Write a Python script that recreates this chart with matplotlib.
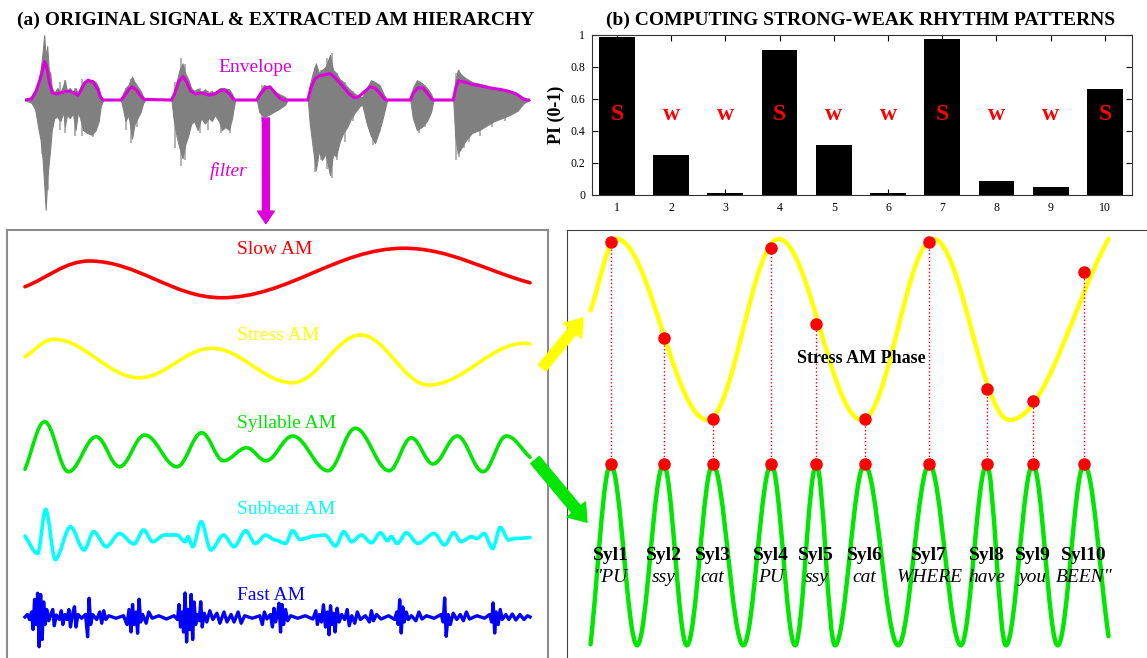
import matplotlib
matplotlib.use('Agg')
import matplotlib.pyplot as plt
from matplotlib.path import Path
from matplotlib.patches import PathPatch, ConnectionPatch

plt.rcParams['font.family'] = ['Liberation Serif', 'DejaVu Serif']

# ---------------- data (time in % of the utterance) ----------------
syl_labels = ['Syl1', 'Syl2', 'Syl3', 'Syl4', 'Syl5', 'Syl6', 'Syl7', 'Syl8', 'Syl9', 'Syl10']
syl_words = ['"PU', 'ssy', 'cat', 'PU', 'ssy', 'cat', 'WHERE', 'have', 'you', 'BEEN"']
syl_times = [3.9, 14.1, 23.6, 34.9, 43.6, 52.9, 65.4, 76.5, 85.4, 95.3]

pi_values = [0.99, 0.25, 0.01, 0.905, 0.315, 0.015, 0.975, 0.085, 0.05, 0.665]
pi_marks = ['S', 'w', 'w', 'S', 'w', 'w', 'S', 'w', 'w', 'S']

# original signal: (time, upper, lower)
wave = [(0.0, 0.0, 0.0), (1.3, 0.05, -0.05), (2.0, 0.12, -0.15), (2.6, 0.25, -0.45),
        (3.1, 0.5, -0.67), (3.5, 0.8, -1.0), (3.8, 1.08, -1.4), (4.1, 0.7, -1.83),
        (4.4, 0.9, -1.3), (4.7, 0.5, -1.06), (5.0, 0.45, -0.8), (5.3, 0.2, -0.5),
        (5.8, 0.12, -0.3), (6.4, 0.2, -0.28), (7.0, 0.12, -0.35), (7.6, 0.25, -0.2),
        (7.9, 0.33, -0.44), (8.3, 0.15, -0.25), (8.9, 0.2, -0.3), (9.5, 0.12, -0.22),
        (10.0, 0.2, -0.5), (10.5, 0.1, -0.2), (10.9, 0.2, -0.3), (11.5, 0.3, -0.5),
        (12.3, 0.33, -0.55), (13.2, 0.33, -0.58), (14.0, 0.3, -0.5), (14.6, 0.2, -0.35),
        (15.0, 0.05, -0.1), (15.5, 0.0, 0.0), (19.0, 0.0, 0.0), (19.4, 0.1, -0.15),
        (19.9, 0.2, -0.35), (20.5, 0.25, -0.25), (21.2, 0.39, -0.64), (21.7, 0.3, -0.4),
        (22.3, 0.22, -0.3), (22.9, 0.15, -0.2), (23.4, 0.05, -0.05), (23.8, 0.0, 0.0),
        (29.0, 0.0, 0.0), (29.4, 0.1, -0.3), (30.0, 0.3, -0.6), (30.6, 0.5, -0.8),
        (31.2, 0.61, -0.97), (31.7, 0.45, -0.75), (32.3, 0.35, -0.6), (32.9, 0.2, -0.4),
        (33.5, 0.15, -0.35), (34.2, 0.19, -0.5), (34.9, 0.12, -0.3), (35.6, 0.18, -0.39),
        (36.4, 0.12, -0.3), (37.0, 0.15, -0.35), (37.6, 0.1, -0.25), (38.4, 0.19, -0.35),
        (39.0, 0.2, -0.5), (39.7, 0.19, -0.45), (40.4, 0.18, -0.5), (41.0, 0.1, -0.3),
        (41.6, 0.0, 0.0), (45.9, 0.0, 0.0), (46.4, 0.12, -0.2), (47.3, 0.25, -0.28),
        (48.2, 0.22, -0.25), (49.2, 0.15, -0.2), (50.3, 0.1, -0.15), (51.5, 0.05, -0.08),
        (52.0, 0.0, 0.0), (56.0, 0.0, 0.0), (56.4, 0.25, -0.4), (57.0, 0.45, -0.8),
        (57.6, 0.61, -1.17), (58.2, 0.45, -0.85), (58.8, 0.5, -1.0), (59.5, 0.55, -0.9),
        (60.4, 0.75, -1.25), (61.0, 0.5, -0.9), (61.6, 0.45, -0.94), (62.3, 0.35, -0.7),
        (63.0, 0.3, -0.55), (63.8, 0.22, -0.45), (64.6, 0.15, -0.3), (65.4, 0.1, -0.2),
        (66.3, 0.05, -0.1), (66.8, 0.05, -0.08), (67.7, 0.2, -0.4), (68.5, 0.33, -0.6),
        (69.3, 0.3, -0.72), (70.2, 0.25, -0.5), (71.0, 0.1, -0.25), (71.7, 0.0, 0.0),
        (76.3, 0.0, 0.0), (76.8, 0.2, -0.3), (77.6, 0.33, -0.5), (78.6, 0.28, -0.45),
        (79.6, 0.2, -0.35), (80.4, 0.1, -0.2), (80.9, 0.0, 0.0), (84.8, 0.0, 0.0),
        (85.2, 0.3, -0.6), (85.7, 0.5, -0.89), (86.4, 0.42, -0.8), (87.3, 0.36, -0.67),
        (88.5, 0.3, -0.55), (90.0, 0.27, -0.5), (91.5, 0.24, -0.42), (93.0, 0.2, -0.35),
        (94.5, 0.18, -0.3), (96.0, 0.15, -0.25), (97.5, 0.1, -0.18), (98.8, 0.03, -0.05),
        (100.0, 0.0, 0.0)]

# isolated spikes sticking out of the signal: (time, top, bottom)
wave_spikes = [(2.9, 0.3, -0.55), (3.3, 0.6, -0.9), (4.6, 0.6, -1.5), (5.6, 0.15, -0.45),
               (6.9, 0.3, -0.5), (8.0, 0.33, -0.55), (9.9, 0.2, -0.6), (11.2, 0.35, -0.6),
               (13.5, 0.33, -0.62), (20.0, 0.2, -0.5), (21.0, 0.35, -0.72), (22.2, 0.2, -0.45),
               (29.8, 0.3, -0.8), (30.8, 0.7, -1.1), (31.6, 0.6, -1.0), (34.6, 0.2, -0.55),
               (36.2, 0.15, -0.5), (38.8, 0.2, -0.55), (40.6, 0.15, -0.55), (47.0, 0.25, -0.35),
               (57.4, 0.55, -1.2), (58.6, 0.5, -1.0), (59.8, 0.7, -1.15), (60.7, 0.78, -1.3),
               (61.8, 0.45, -1.0), (63.3, 0.3, -0.7), (65.0, 0.15, -0.35), (68.9, 0.3, -0.75),
               (69.8, 0.25, -0.6), (78.0, 0.3, -0.55), (79.2, 0.25, -0.45), (85.4, 0.45, -1.0),
               (86.0, 0.5, -0.95), (87.0, 0.35, -0.8), (88.0, 0.3, -0.7), (90.0, 0.27, -0.6),
               (92.5, 0.2, -0.45), (95.0, 0.17, -0.35)]

envelope = [(0, 0), (1.3, 0.02), (2.2, 0.15), (3.0, 0.35), (3.6, 0.55), (3.9, 0.64), (4.3, 0.55),
            (4.8, 0.3), (5.4, 0.12), (6.2, 0.1), (7.5, 0.13), (8.7, 0.15), (9.7, 0.12), (10.5, 0.08),
            (11.0, 0.15), (11.8, 0.28), (12.5, 0.33), (13.5, 0.3), (14.4, 0.18), (15.0, 0.04),
            (15.5, 0), (19.0, 0), (19.8, 0.08), (20.6, 0.18), (21.2, 0.22), (22.0, 0.17), (22.8, 0.08),
            (23.6, 0.01), (29.0, 0), (29.6, 0.1), (30.4, 0.3), (31.3, 0.39), (32.0, 0.3), (32.8, 0.15),
            (33.8, 0.1), (35.0, 0.12), (36.5, 0.08), (37.5, 0.1), (38.5, 0.15), (39.5, 0.17),
            (40.5, 0.1), (41.2, 0.02), (41.6, 0), (45.9, 0), (46.6, 0.1), (47.6, 0.2), (48.5, 0.22),
            (49.5, 0.12), (50.5, 0.03), (51.2, 0), (56.0, 0), (56.6, 0.2), (57.4, 0.35), (58.2, 0.4),
            (59.3, 0.42), (60.4, 0.44), (61.3, 0.38), (62.2, 0.3), (63.2, 0.2), (64.2, 0.1),
            (65.2, 0.04), (66.0, 0.05), (67.0, 0.12), (68.3, 0.22), (69.3, 0.2), (70.4, 0.1),
            (71.3, 0.01), (71.7, 0), (76.3, 0), (76.9, 0.12), (77.8, 0.2), (78.8, 0.2), (79.8, 0.1),
            (80.6, 0.01), (81.0, 0), (84.8, 0), (85.3, 0.2), (85.8, 0.32), (87.0, 0.3), (88.5, 0.26),
            (90.0, 0.24), (91.5, 0.21), (93.0, 0.19), (94.5, 0.17), (96.0, 0.14), (97.3, 0.1),
            (98.5, 0.03), (99.3, 0), (100, 0)]

# AM hierarchy, turning points of each band
slow_t = [0, 12.7, 38.9, 75.0, 100]
slow_v = [-0.55, 0.48, -0.99, 0.99, -0.39]

stress_t = [0, 5.7, 22.6, 37.0, 53.0, 66.5, 79.9, 99.0, 100]
stress_v = [0.13, 0.83, -0.71, 0.47, -0.91, 1.0, -1.0, 0.67, 0.64]

syll_t = [0, 3.9, 8.6, 14.1, 18.7, 23.7, 30.1, 35.0, 39.3, 43.9, 47.7, 53.0, 60.0, 65.4,
          72.1, 76.5, 80.8, 85.6, 90.7, 95.3, 100]
syll_v = [-0.9, 1.0, -1.0, 0.4, -0.8, 0.47, -0.8, 0.56, -0.56, -0.04, -0.56, 0.43, -0.96, 0.74,
          -0.96, 0.36, -0.69, 0.43, -1.0, 0.43, -0.42]

sub_t = [0, 2.5, 4.1, 6.0, 9.0, 11.7, 13.6, 16.1, 18.7, 21.6, 23.5, 25.3, 27.6, 30.1, 31.7,
         32.3, 33.2, 34.9, 36.8, 39.3, 41.4, 43.7, 45.6, 47.7, 49.5, 51.6, 53.0, 54.5, 57.3,
         59.4, 61.5, 63.1, 64.7, 66.6, 68.6, 70.4, 71.8, 72.5, 73.7, 75.5, 77.8, 81.0, 83.1,
         84.9, 86.3, 88.4, 89.5, 90.9, 92.6, 94.1, 95.8, 96.9, 100]
sub_v = [0.03, -0.67, 1.09, -0.91, 0.4, -0.53, 0.2, -0.4, 0.13, -0.29, 0.27, -0.2, 0.07, 0.07,
         -0.2, 0.0, -0.4, 0.6, -0.53, 0.07, -0.4, 0.24, -0.27, 0.07, -0.13, -0.27, 0.24, -0.11,
         0.03, 0.07, -0.37, 0.2, -0.2, 0.07, -0.24, 0.16, -0.16, 0.0, -0.27, 0.16, -0.27, 0.13,
         -0.33, 0.17, -0.2, 0.0, -0.07, 0.13, -0.47, 0.37, -0.13, -0.07, -0.03]

fast_am = [(0.0, 0.0), (0.5, 0.1), (0.9, -0.1), (1.3, 0.2), (1.6, -0.5), (1.9, 0.7), (2.2, -0.3),
           (2.5, 0.95), (2.8, -1.19), (3.1, 0.9), (3.4, -0.9), (3.7, 0.6), (4.0, -0.3), (4.3, 0.3),
           (4.7, -0.15), (5.1, 0.1), (5.5, 0.3), (5.8, -0.35), (6.2, 0.08), (6.8, -0.1), (7.2, 0.25),
           (7.5, -0.3), (7.9, 0.1), (8.3, -0.1), (8.7, 0.3), (9.0, -0.4), (9.4, 0.1), (9.8, 0.41),
           (10.1, -0.4), (10.5, 0.1), (11.2, -0.05), (12.0, 0.1), (12.4, -0.79), (12.7, 0.75),
           (13.0, -0.3), (13.4, 0.1), (14.2, -0.1), (14.8, 0.2), (15.2, -0.25), (15.6, 0.25),
           (16.0, -0.1), (16.6, 0.05), (18.0, -0.05), (19.5, 0.05), (20.2, -0.3), (20.6, 0.3),
           (21.0, -0.6), (21.3, 0.5), (21.6, -0.3), (22.0, 0.2), (22.3, -0.65), (22.6, 0.71),
           (22.9, -0.2), (23.3, 0.1), (24.0, -0.25), (24.5, 0.2), (25.2, -0.05), (26.5, 0.05),
           (28.0, -0.08), (29.5, 0.05), (30.2, -0.1), (30.5, 0.5), (30.8, -0.4), (31.1, 0.2),
           (31.4, -0.6), (31.7, 0.96), (32.0, -1.0), (32.3, 0.3), (32.6, -0.5), (32.9, 0.9),
           (33.2, -0.9), (33.5, 0.6), (33.8, -0.3), (34.1, 0.1), (34.5, -0.15), (34.8, 0.61),
           (35.1, -0.4), (35.5, 0.15), (36.0, -0.2), (36.6, 0.25), (37.2, -0.1), (38.0, 0.15),
           (38.6, -0.25), (39.4, 0.2), (40.0, -0.2), (40.8, 0.1), (41.4, -0.2), (42.2, 0.2),
           (42.8, -0.25), (43.5, 0.05), (45.0, -0.05), (46.5, 0.05), (47.0, -0.3), (47.4, 0.2),
           (47.9, -0.08), (48.6, 0.1), (49.0, -0.4), (49.3, 0.35), (49.6, -0.2), (50.0, 0.1),
           (50.3, 0.55), (50.6, -0.6), (50.9, 0.5), (51.2, -0.3), (51.6, 0.3), (52.0, -0.15),
           (52.6, 0.05), (54.0, -0.05), (55.5, 0.05), (57.0, -0.08), (57.6, 0.25), (57.9, -0.3),
           (58.3, 0.1), (58.7, -0.2), (59.1, 0.49), (59.5, -0.4), (59.9, 0.2), (60.2, -0.71),
           (60.5, 0.45), (60.8, -0.3), (61.1, 0.15), (61.4, -0.6), (61.8, 0.35), (62.2, -0.2),
           (62.7, 0.1), (63.3, -0.1), (63.8, 0.3), (64.2, -0.35), (64.7, 0.05), (65.3, -0.25),
           (65.8, 0.2), (66.4, -0.1), (67.4, 0.05), (68.2, -0.2), (68.6, 0.25), (69.0, -0.15),
           (69.6, 0.1), (70.5, -0.08), (72.0, 0.05), (73.2, -0.1), (73.6, 0.2), (73.9, -0.3),
           (74.2, 0.69), (74.5, -0.64), (74.8, 0.4), (75.1, -0.2), (75.5, 0.2), (75.9, -0.1),
           (76.5, 0.05), (77.4, -0.15), (78.0, 0.2), (78.6, -0.08), (79.5, 0.05), (81.0, -0.05),
           (82.4, 0.1), (82.8, -0.2), (83.1, 0.76), (83.4, -0.77), (83.8, 0.1), (84.2, -0.3),
           (84.8, 0.15), (85.5, -0.1), (86.2, 0.1), (86.8, -0.15), (87.4, 0.2), (88.0, -0.08),
           (89.5, 0.05), (91.0, -0.05), (92.0, 0.1), (92.4, -0.2), (92.7, 0.56), (93.0, -0.64),
           (93.3, 0.2), (93.7, -0.3), (94.1, 0.3), (94.5, -0.1), (95.2, 0.1), (95.8, -0.1),
           (96.5, 0.12), (97.2, -0.12), (98.0, 0.1), (98.8, -0.1), (99.5, 0.05), (100, 0.0)]

# (b) stress AM phase (cosine) and idealised syllable AM
phase_t = [0, 5.0, 22.6, 36.3, 52.4, 66.2, 80.9, 100]
phase_v = [0.21, 1.0, -1.0, 1.0, -1.0, 1.0, -1.0, 1.0]
phase_at_syl = [0.97, -0.09, -0.99, 0.90, 0.06, -0.99, 0.97, -0.66, -0.79, 0.64]

green_t = [0, 3.9, 9.0, 14.1, 18.6, 23.6, 29.5, 34.9, 39.5, 43.6, 47.2, 52.9, 59.4, 65.4,
           71.5, 76.5, 80.2, 85.4, 90.2, 95.3, 100]
green_v = [-0.99, 1, -1, 1, -1, 1, -1, 1, -1, 1, -1, 1, -1, 1, -1, 1, -1, 1, -1, 1, -0.9]

# ---------------- drawing ----------------
W, H = 1147, 658
fig = plt.figure(figsize=(W / 100, H / 100), dpi=100)


def px_axes(x0, y0, x1, y1):
    return fig.add_axes([x0 / W, 1 - y1 / H, (x1 - x0) / W, (y1 - y0) / H])


def smooth(ax, xs, ys, dy=0.0, k=0.364, **kw):
    # bezier through turning points, flat handles at each one
    verts = [(xs[0], ys[0] + dy)]
    codes = [Path.MOVETO]
    n = len(xs)
    for i in range(n - 1):
        x0, y0, x1, y1 = xs[i], ys[i] + dy, xs[i + 1], ys[i + 1] + dy
        d = (x1 - x0) * k
        s0 = (y1 - y0) * k if i == 0 else 0
        s1 = (y1 - y0) * k if i == n - 2 else 0
        verts += [(x0 + d, y0 + s0), (x1 - d, y1 - s1), (x1, y1)]
        codes += [Path.CURVE4] * 3
    ax.add_patch(PathPatch(Path(verts, codes), fill=False, capstyle='round', **kw))


MAG = '#dd00dd'
YEL = '#ffff00'
GRN = '#00e600'

# titles
fig.text(275.5 / W, 1 - 20 / H, '(a) ORIGINAL SIGNAL & EXTRACTED AM HIERARCHY',
         ha='center', va='center', fontsize=14, fontweight='bold')
fig.text(861 / W, 1 - 20 / H, '(b) COMPUTING STRONG-WEAK RHYTHM PATTERNS',
         ha='center', va='center', fontsize=14, fontweight='bold')

# (a) waveform + envelope
axw = px_axes(25, 20, 530, 225)
axw.set_xlim(0, 100)
axw.set_ylim(-2.083, 1.333)
axw.set_axis_off()
axw.vlines([s[0] for s in wave_spikes], [s[2] for s in wave_spikes], [s[1] for s in wave_spikes],
           colors='#a6a6a6', lw=1.2, zorder=0.5)
wt = [w[0] for w in wave]
axw.fill_between(wt, [w[2] for w in wave], [w[1] for w in wave], color='#808080', lw=0.8, zorder=1)
axw.plot([e[0] for e in envelope], [e[1] for e in envelope], color=MAG, lw=2.2, zorder=3)
axw.text(45.6, 0.47, 'Envelope', color=MAG, fontsize=14, ha='center', va='baseline')
axw.text(40.3, -1.26, 'filter', color=MAG, fontsize=14, style='italic', ha='center', va='baseline')
fig.add_artist(ConnectionPatch((47.7, -0.3), (47.7, -2.06), coordsA=axw.transData,
                               coordsB=axw.transData, color=MAG, shrinkA=0, shrinkB=0,
                               arrowstyle='simple,head_length=0.45,head_width=0.6,tail_width=0.25',
                               mutation_scale=20))

# (b) bar chart
axb = px_axes(592, 35, 1132, 195)
x = list(range(1, 11))
axb.bar(x, pi_values, width=0.66, color='black')
for xi, m in zip(x, pi_marks):
    axb.text(xi, 0.5, m, color='red', fontsize=17, fontweight='bold', ha='center', va='center')
axb.set_xlim(0.54, 10.5)
axb.set_ylim(0, 1)
axb.set_xticks(x)
axb.set_yticks([0, 0.2, 0.4, 0.6, 0.8, 1])
axb.set_yticklabels(['0', '0.2', '0.4', '0.6', '0.8', '1'])
axb.tick_params(direction='in', top=True, right=True, labelsize=8.5, length=4, pad=5)
for s in axb.spines.values():
    s.set_color('#333333')
axb.set_ylabel('PI (0-1)', fontsize=13, fontweight='bold')

# left box: AM hierarchy
axl = px_axes(7, 230, 548, 672)
axl.set_xlim(-3.56, 103.56)
axl.set_ylim(-17.68, 0)
axl.set_xticks([])
axl.set_yticks([])
axl.patch.set_alpha(0)
for s in axl.spines.values():
    s.set_color('#8c8c8c')
    s.set_linewidth(1.5)

smooth(axl, slow_t, slow_v, dy=-1.72, edgecolor='red', lw=2.6)
smooth(axl, stress_t, stress_v, dy=-5.2, edgecolor=YEL, lw=2.6)
smooth(axl, syll_t, syll_v, dy=-8.67, edgecolor=GRN, lw=2.6)
smooth(axl, sub_t, sub_v, dy=-12.27, k=0.33, edgecolor='#00ffff', lw=2.6)
axl.plot([f[0] for f in fast_am], [f[1] - 15.48 for f in fast_am], color='#0000ff', lw=2.4)

for label, col, yb in [('Slow AM', 'red', -0.96), ('Stress AM', YEL, -4.4),
                       ('Syllable AM', GRN, -7.91), ('Subbeat AM', '#00ffff', -11.36),
                       ('Fast AM', '#0000ff', -14.8)]:
    axl.text(41.9, yb, label, color=col, fontsize=14, ha='left', va='baseline')

# right box: strong-weak patterns from phase
GREEN_BASE = -2.49
axr = px_axes(567, 230, 1152, 672)
axr.set_xlim(-4.54, 108.4)
axr.set_ylim(-3.785, 1.099)
axr.set_xticks([])
axr.set_yticks([])
axr.patch.set_alpha(0)
for s in axr.spines.values():
    s.set_color('#404040')

smooth(axr, phase_t, phase_v, edgecolor=YEL, lw=3.2, zorder=2)
smooth(axr, green_t, green_v, dy=GREEN_BASE, edgecolor=GRN, lw=3.2, zorder=2)
axr.vlines(syl_times, [GREEN_BASE + 1] * len(syl_times), phase_at_syl,
           colors='red', linestyles=':', lw=1, zorder=3)
axr.plot(syl_times, phase_at_syl, 'o', color='red', ms=8, zorder=4)
axr.plot(syl_times, [GREEN_BASE + 1] * len(syl_times), 'o', color='red', ms=8, zorder=4)
axr.text(52.3, -0.37, 'Stress AM Phase', fontsize=13, fontweight='bold', ha='center', va='baseline', zorder=5)
for t, lab, wd in zip(syl_times, syl_labels, syl_words):
    axr.text(t, -2.55, lab, fontsize=14, fontweight='bold', ha='center', va='baseline', zorder=5)
    axr.text(t, -2.79, wd, fontsize=14, style='italic', ha='center', va='baseline', zorder=5)

# arrows from the left box into the right box
fig.add_artist(ConnectionPatch((102.4, -5.52), (-1.45, 0.127), coordsA=axl.transData,
                               coordsB=axr.transData, color=YEL, shrinkA=0, shrinkB=0,
                               arrowstyle='simple,head_length=0.6,head_width=0.85,tail_width=0.35',
                               mutation_scale=20))
fig.add_artist(ConnectionPatch((101.0, -9.2), (-0.68, -2.13), coordsA=axl.transData,
                               coordsB=axr.transData, color=GRN, shrinkA=0, shrinkB=0,
                               arrowstyle='simple,head_length=0.6,head_width=0.85,tail_width=0.4',
                               mutation_scale=20))

fig.savefig('out.png', dpi=100)
